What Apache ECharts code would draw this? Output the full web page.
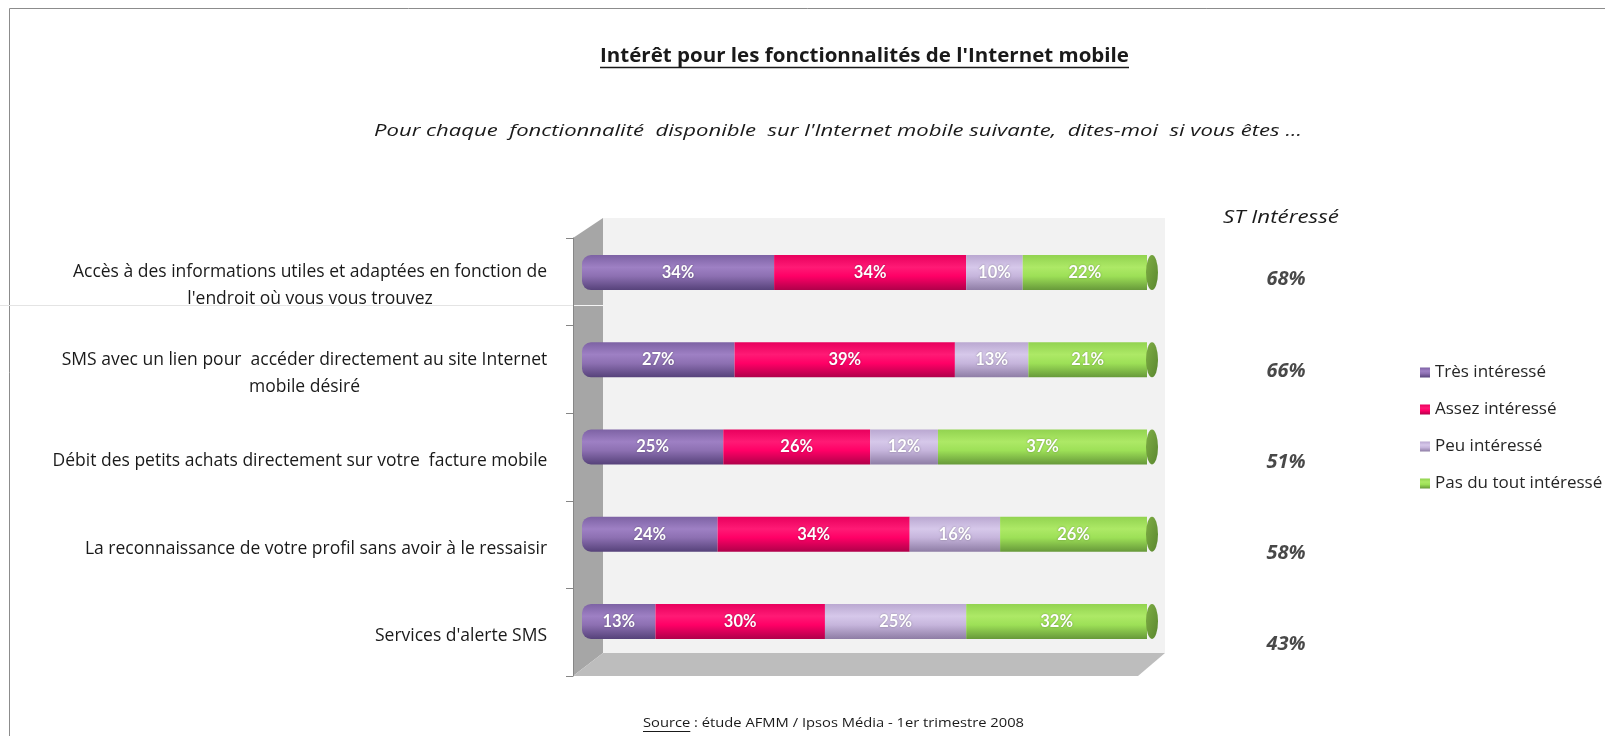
<!DOCTYPE html>
<html><head><meta charset="utf-8">
<script src="https://cdn.jsdelivr.net/npm/echarts@6/dist/echarts.min.js"></script>
<style>html,body{margin:0;padding:0;background:#fff;overflow:hidden}#c{width:1605px;height:736px;}</style>
</head><body><div id="c"></div>
<script>
const categories = [
  "Accès à des informations utiles et adaptées en fonction de\nl'endroit où vous vous trouvez",
  "SMS avec un lien pour  accéder directement au site Internet\nmobile désiré",
  "Débit des petits achats directement sur votre  facture mobile",
  "La reconnaissance de votre profil sans avoir à le ressaisir",
  "Services d'alerte SMS"
];
const seriesNames = ["Très intéressé", "Assez intéressé", "Peu intéressé", "Pas du tout intéressé"];
const tresInteresse  = [34, 27, 25, 24, 13];
const assezInteresse = [34, 39, 26, 34, 30];
const peuInteresse   = [10, 13, 12, 16, 25];
const pasDuTout      = [22, 21, 37, 26, 32];
const stInteresse    = [68, 66, 51, 58, 43];
const titleText = "Intérêt pour les fonctionnalités de l'Internet mobile";
const subtitleText = "Pour chaque  fonctionnalité  disponible  sur l'Internet mobile suivante,  dites-moi  si vous êtes ...";
const stHeader = "ST Intéressé";
const sourceLead = "Source";
const sourceRest = " : étude AFMM / Ipsos Média - 1er trimestre 2008";

const FONT = "'Open Sans', Lato, sans-serif";
const LABEL_SIZE = 17.5;
const TXT = '#1a1a1a';

const cvs = document.createElement('canvas');
const ctx = cvs.getContext('2d');
function measure(text, font) { ctx.font = font; return ctx.measureText(text).width; }

// rich styles per category so that multi-line labels are centred line by line
const rich = {};
categories.forEach((c, i) => {
  const w = Math.max(...c.split('\n').map(l => measure(l, LABEL_SIZE + 'px ' + FONT)));
  rich['c' + i] = { width: Math.ceil(w) + 1, align: 'center', fontFamily: FONT, fontSize: LABEL_SIZE, lineHeight: 27, color: TXT };
});

function grad(stops) {
  return { type: 'linear', x: 0, y: 0, x2: 0, y2: 1,
    colorStops: stops.map((c, i) => ({ offset: [0, 0.35, 0.6, 1][i], color: c })) };
}
const fills = [
  grad(['#7d62a4', '#9e80c4', '#8d70b2', '#56427a']),
  grad(['#e8005d', '#ff1a75', '#ff0066', '#b0004a']),
  grad(['#baa8d1', '#d6c8ea', '#c6b5dc', '#8e7da5']),
  grad(['#92d350', '#ade966', '#9de057', '#67993a'])
];
const values = [tresInteresse, assezInteresse, peuInteresse, pasDuTout];
const sums = categories.map((_, i) => values.reduce((s, arr) => s + arr[i], 0));

const labelStyle = {
  show: true, position: 'inside', formatter: p => p.value + '%',
  color: '#fff', fontFamily: "Lato, 'Open Sans', sans-serif", fontWeight: 'bold', fontSize: 16.5,
  textShadowColor: 'rgba(0,0,0,0.35)', textShadowBlur: 2
};

const barSeries = seriesNames.map((name, k) => ({
  name, type: 'bar', stack: 'total', xAxisIndex: 0, yAxisIndex: 0,
  barWidth: 35, data: values[k],
  itemStyle: { color: fills[k], borderRadius: k === 0 ? [9, 0, 0, 9] : 0 },
  label: labelStyle, z: 3
}));

// text fitted to the reference widths (horizontal scale only)
function fittedText(text, font, left, right, y) {
  const w = measure(text, font);
  return { type: 'text', z: 10, silent: true, x: left, y: y, scaleX: (right - left) / w, scaleY: 1,
    style: { x: 0, y: 0, text, font, fill: TXT, textAlign: 'left', textVerticalAlign: 'middle', verticalAlign: 'middle' } };
}

const TITLE_L = 600, TITLE_R = 1129;
const SRC_L = 643, SRC_R = 1024;
const titleFont = 'bold 20px ' + FONT;
const subFont = 'italic 17px ' + FONT;
const stFont = 'italic 19px ' + FONT;
const srcFont = '13px ' + FONT;
const srcScale = (SRC_R - SRC_L) / measure(sourceLead + sourceRest, srcFont);
const srcW1 = measure(sourceLead, srcFont) * srcScale;

const chart = echarts.init(document.getElementById('c'), null, { renderer: 'canvas' });
const option = {
  animation: false,
  backgroundColor: '#fff',
  legend: {
    data: seriesNames, orient: 'vertical', left: 1415, top: 359,
    icon: 'rect', itemWidth: 10, itemHeight: 10, itemGap: 20,
    textStyle: { fontFamily: FONT, fontSize: 17, color: '#262626', lineHeight: 16 },
    selectedMode: false
  },
  grid: [
    { left: 582, width: 565, top: 229, height: 436 },
    { left: 573, width: 1, top: 238, height: 438 },
    { left: 1236, width: 100, top: 234, height: 456 }
  ],
  xAxis: [
    { gridIndex: 0, type: 'value', min: 0, max: 100, show: false },
    { gridIndex: 1, type: 'value', show: false },
    { gridIndex: 2, type: 'value', min: 0, max: 1, show: false }
  ],
  yAxis: [
    { gridIndex: 0, type: 'category', data: categories, inverse: true, show: false },
    { gridIndex: 1, type: 'category', data: categories, inverse: true, z: 6,
      axisLine: { show: true, lineStyle: { color: '#868686', width: 1 } },
      axisTick: { show: true, length: 7, lineStyle: { color: '#868686' } },
      axisLabel: { margin: 25, padding: [8, 0, 0, 0], formatter: (v, i) => '{c' + i + '|' + v + '}', rich }
    },
    { gridIndex: 2, type: 'category', data: categories, inverse: true, show: false }
  ],
  series: [
    ...barSeries,
    { type: 'scatter', xAxisIndex: 0, yAxisIndex: 0, silent: true, z: 4,
      data: sums.map((s, i) => [s, i]), symbol: 'circle', symbolSize: [12, 35], symbolOffset: [5, 0],
      itemStyle: { color: { type: 'linear', x: 0, y: 0, x2: 1, y2: 1, colorStops: [{ offset: 0, color: '#7fae45' }, { offset: 1, color: '#5a872f' }] }, opacity: 1 }
    },
    { type: 'scatter', xAxisIndex: 2, yAxisIndex: 2, silent: true, symbolSize: 0,
      data: stInteresse.map((v, i) => [0.5, i, v]),
      label: { show: true, position: 'inside', formatter: p => p.value[2] + '%', fontFamily: FONT, fontStyle: 'italic', fontWeight: 'bold', fontSize: 20, color: TXT }
    }
  ],
  graphic: [
    { type: 'rect', z: -10, silent: true, shape: { x: 9.5, y: 8.5, width: 1700, height: 800 }, style: { fill: null, stroke: '#8c8c8c', lineWidth: 1 } },
    { type: 'line', z: -9, silent: true, shape: { x1: 0, y1: 305.5, x2: 573, y2: 305.5 }, style: { stroke: '#e4e4e4', lineWidth: 1 } },
    { type: 'rect', z: -9, silent: true, shape: { x: 603, y: 218, width: 562, height: 435 }, style: { fill: '#f2f2f2' } },
    { type: 'polygon', z: -8, silent: true, shape: { points: [[573, 238], [603, 218], [603, 653], [573, 676]] }, style: { fill: '#a6a6a6' } },
    { type: 'line', z: -7, silent: true, shape: { x1: 573, y1: 305.5, x2: 603, y2: 305.5 }, style: { stroke: '#f4f4f4', lineWidth: 1 } },
    { type: 'polygon', z: -8, silent: true, shape: { points: [[573, 676], [603, 653], [1165, 653], [1138, 676]] }, style: { fill: '#bdbdbd' } },
    fittedText(titleText, titleFont, TITLE_L, TITLE_R, 56),
    { type: 'line', z: 10, silent: true, shape: { x1: TITLE_L, y1: 67.5, x2: TITLE_R, y2: 67.5 }, style: { stroke: TXT, lineWidth: 1.5 } },
    fittedText(subtitleText, subFont, 374, 1302, 131),
    fittedText(stHeader, stFont, 1223, 1339, 218),
    fittedText(sourceLead + sourceRest, srcFont, SRC_L, SRC_R, 723),
    { type: 'line', z: 10, silent: true, shape: { x1: SRC_L, y1: 731.5, x2: SRC_L + srcW1, y2: 731.5 }, style: { stroke: TXT, lineWidth: 1 } }
  ]
};
chart.setOption(option);
</script>
</body></html>
